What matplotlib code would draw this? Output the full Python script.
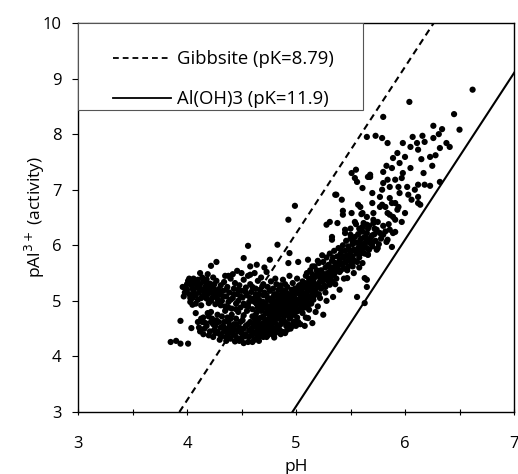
import matplotlib
matplotlib.use("Agg")
import matplotlib.pyplot as plt
from matplotlib.patches import Rectangle
from matplotlib.lines import Line2D

plt.rcParams['font.family'] = ['Open Sans', 'DejaVu Sans']

# ---------------- data ----------------
left_tail = [(3.85,4.26),(3.90,4.28),(3.94,4.23),(4.01,4.23),(3.94,4.64),(4.04,4.51),
             (4.05,4.93),(3.97,5.08),(3.99,5.22)]

left_upper = [(4.02,5.40),(4.12,5.50),(4.19,5.48),(4.22,5.63),(4.27,5.70),(4.38,5.45),
              (4.46,5.54),(4.52,5.77),(4.56,5.99),(4.73,5.52),
              (4.00,5.20),(4.02,5.12),(4.04,5.28),(4.05,5.05),(4.06,5.18),(4.07,5.32),(4.08,5.10),
              (4.09,5.24),(4.10,5.02),(4.11,5.15),(4.12,5.30),(4.13,5.21),(4.14,5.08),(4.15,5.35),
              (4.16,5.16),(4.17,5.26),(4.18,5.04),(4.19,5.12),(4.20,5.22),(4.21,5.31),(4.22,5.00),
              (4.23,5.14),(4.24,5.25),(4.25,5.08),(4.26,5.18),(4.27,5.36),(4.28,5.03),(4.29,5.21),
              (4.30,5.12),(4.31,5.28),(4.03,4.98),(4.08,4.95),(4.13,4.92),(4.01,5.36),(4.06,5.40),
              (4.10,5.38),(4.18,5.39),(4.24,5.42),(4.20,4.96),(4.26,4.94),
              (3.98,5.15),(4.00,5.30),(4.03,5.05),(4.05,5.22),(4.07,5.12),(4.09,5.35),(4.11,5.25),
              (4.13,5.05),(4.15,5.20),(4.17,5.10),(4.19,5.30),(4.21,5.18),(4.23,5.05),(4.25,5.30),
              (4.27,5.12),(4.29,4.98),(4.04,5.35),(4.14,5.42),(3.96,5.25)]

middle = [(4.32,5.00),(4.33,5.18),(4.34,5.34),(4.35,4.90),(4.36,5.08),(4.37,5.25),(4.38,4.98),
          (4.39,5.15),(4.40,5.40),(4.41,4.86),(4.42,5.05),(4.43,5.22),(4.44,5.32),(4.45,4.95),
          (4.46,5.12),(4.47,5.00),(4.48,5.28),(4.49,4.88),(4.50,5.18),(4.51,5.06),(4.52,5.38),
          (4.53,4.92),(4.54,5.24),(4.55,5.10),(4.56,5.45),(4.57,4.98),(4.58,5.30),(4.59,5.16),
          (4.60,4.85),(4.61,5.04),(4.62,5.50),(4.63,5.22),(4.64,4.94),(4.65,5.36),(4.66,5.12),
          (4.67,5.00),(4.68,5.42),(4.69,5.26),(4.70,4.90),(4.71,5.60),(4.35,5.45),(4.42,5.48),
          (4.50,5.50),(4.58,5.62),(4.64,5.65),(4.76,5.74),(4.83,6.01),(4.58,5.47),(4.93,5.68),
          (4.31,4.92),(4.33,5.08),(4.36,5.20),(4.38,4.88),(4.40,5.02),(4.43,5.12),(4.45,4.85),
          (4.47,5.20),(4.49,5.08),(4.52,4.95),(4.54,5.15),(4.56,4.90),(4.58,5.05),(4.60,5.25),
          (4.62,4.98),(4.63,5.12),(4.65,5.05),(4.67,5.20),(4.68,4.92),(4.70,5.10)]

left_lower = [(4.56,4.26),(4.73,4.35),(4.88,4.44),(4.62,4.30),(4.48,4.28),(4.40,4.32),(4.30,4.30),
              (4.20,4.38),(4.12,4.45),(4.10,4.62),(4.15,4.70),(4.08,4.78),(4.18,4.55),(4.22,4.80),
              (4.25,4.48),(4.27,4.65),(4.30,4.40),(4.32,4.72),(4.33,4.55),(4.35,4.82),(4.36,4.35),
              (4.38,4.62),(4.40,4.48),(4.41,4.75),(4.42,4.40),(4.43,4.58),(4.45,4.68),(4.46,4.33),
              (4.47,4.80),(4.48,4.52),(4.50,4.42),(4.51,4.65),(4.52,4.74),(4.53,4.36),(4.54,4.55),
              (4.55,4.82),(4.57,4.47),(4.58,4.62),(4.59,4.38),(4.60,4.72),(4.61,4.55),(4.63,4.44),
              (4.64,4.80),(4.65,4.62),(4.66,4.35),(4.67,4.52),(4.68,4.70),(4.69,4.42),(4.70,4.60),
              (4.72,4.78),(4.22,4.62),(4.16,4.50),(4.26,4.42),(4.34,4.45),(4.28,4.75),(4.20,4.72),
              (4.37,4.70),(4.44,4.48),(4.24,4.58),(4.14,4.62),
              (4.11,4.52),(4.13,4.68),(4.15,4.40),(4.17,4.60),(4.19,4.78),(4.21,4.45),(4.23,4.68),
              (4.24,4.35),(4.26,4.55),(4.28,4.45),(4.29,4.62),(4.31,4.52),(4.32,4.36),(4.34,4.62),
              (4.35,4.50),(4.37,4.42),(4.39,4.55),(4.40,4.68),(4.42,4.50),(4.44,4.38),(4.45,4.58),
              (4.47,4.45),(4.49,4.62),(4.50,4.33),(4.52,4.50),(4.54,4.40),(4.56,4.58),(4.57,4.35),
              (4.59,4.50),(4.61,4.42),(4.62,4.68),(4.64,4.38),(4.66,4.55),(4.68,4.42),(4.70,4.35),
              (4.72,4.45),(4.74,4.38),(4.77,4.48),(4.81,4.42),(4.86,4.40),(4.92,4.48),(4.97,4.55),
              (5.02,4.62),(4.66,4.28),(4.60,4.26),(4.52,4.24),(4.44,4.27),(4.36,4.28),(4.80,4.34)]

core = [(4.72,4.95),(4.73,5.10),(4.74,4.82),(4.74,5.25),(4.75,4.68),(4.75,5.02),(4.76,4.90),
        (4.76,5.18),(4.77,4.58),(4.77,5.35),(4.78,4.78),(4.78,5.05),(4.79,4.95),(4.79,5.22),
        (4.80,4.65),(4.80,5.12),(4.81,4.85),(4.81,5.40),(4.82,4.99),(4.82,5.30),(4.83,4.72),
        (4.83,5.08),(4.84,4.55),(4.84,5.20),(4.85,4.90),(4.85,5.02),(4.86,4.80),(4.86,5.28),
        (4.87,4.62),(4.87,5.12),(4.88,4.95),(4.88,5.38),(4.89,4.72),(4.89,5.05),(4.90,4.88),
        (4.90,5.18),(4.91,4.55),(4.91,5.00),(4.92,4.80),(4.92,5.25),(4.93,4.95),(4.93,5.12),
        (4.94,4.68),(4.94,5.45),(4.95,4.88),(4.95,5.06),(4.96,5.20),(4.96,4.76),(4.97,4.98),
        (4.97,5.32),(4.98,4.62),(4.98,5.10),(4.99,4.90),(4.99,5.22),(5.00,4.80),(5.00,5.02),
        (5.01,5.40),(5.01,4.70),(5.02,5.14),(5.02,4.95),(5.03,5.28),(5.03,4.85),(5.04,5.05),
        (5.04,4.58),(5.05,5.20),(5.05,4.92),(5.06,5.35),(5.06,4.78),(5.07,5.10),(5.07,5.00),
        (5.08,5.25),(5.08,4.88),(5.09,5.45),(5.09,4.70),(5.10,5.15),(5.10,4.98),(5.11,5.30),
        (5.12,4.84),(5.12,5.08),(5.13,5.22),(5.14,4.95),(5.14,5.38),(5.15,5.12),(4.75,4.45),
        (4.80,4.50),(4.85,4.48),(4.72,4.52),(4.90,4.42),(4.95,4.50),(5.00,4.55),(4.78,4.40),
        (4.70,4.98),(4.71,5.15),(4.70,5.30),(4.73,4.62),(4.76,4.75),(4.84,4.88),(4.88,4.82),
        (4.92,5.08),(4.96,4.90),(5.02,5.25),(4.82,5.12),(4.86,4.98),(4.90,5.30),(4.98,5.00),
        (5.04,5.12),(4.80,5.00),(4.94,5.00),(4.87,5.20),(4.99,5.15),(5.06,5.05),(4.93,4.85),
        (4.83,4.95),(4.77,5.00),(4.85,5.10),(4.91,5.15),(4.97,5.08),(5.03,5.18),(4.89,4.92),
        (4.79,4.85),(4.74,5.05),(5.00,4.98),
        (5.11,4.69),(5.25,4.75),(5.34,5.07),(5.31,5.29),(5.20,4.90),(5.18,4.80),(5.15,4.60),
        (5.08,4.55),(5.22,5.05),(5.28,5.00),(5.40,5.20),
        (4.62,4.60),(4.63,4.75),(4.64,4.52),(4.65,4.88),(4.66,4.68),(4.67,4.45),(4.68,4.82),
        (4.69,4.58),(4.70,4.72),(4.71,4.48),(4.71,4.88),(4.72,4.65),(4.73,4.78),(4.74,4.55),
        (4.75,4.90),(4.76,4.62),(4.77,4.82),(4.78,4.52),(4.79,4.70),(4.80,4.92),(4.81,4.60),
        (4.82,4.78),(4.83,4.48),(4.84,4.68),(4.85,4.82),(4.86,4.58),(4.87,4.75),(4.88,4.65),
        (4.89,4.85),(4.90,4.62),(4.91,4.75),(4.92,4.95),(4.93,4.58),(4.94,4.82),(4.95,4.70),
        (4.96,5.12),(4.97,4.85),(4.98,4.75),(4.99,5.05),(5.00,4.92),(5.01,5.18),(5.02,4.82),
        (5.03,5.00),(5.04,5.28),(5.05,4.85),(5.06,5.15),(5.07,4.92),(5.08,5.32),(5.09,5.05),
        (5.10,5.22),(5.11,4.92),(5.12,5.35),(5.13,5.05),(5.14,5.18),(5.15,5.30),(5.16,5.02),
        (5.17,5.42),(5.18,5.15),(5.19,5.28),(5.20,5.48),(5.21,5.12),(5.22,5.35),(5.23,5.22),
        (5.24,5.50),(5.26,5.38),(5.27,5.25)]

band = [(5.12,5.40),(5.13,5.55),(5.14,5.25),(5.15,5.48),(5.16,5.35),(5.17,5.62),(5.18,5.20),
        (5.18,5.45),(5.19,5.55),(5.20,5.30),(5.21,5.68),(5.22,5.42),(5.22,5.25),(5.23,5.55),
        (5.24,5.35),(5.25,5.70),(5.25,5.48),(5.26,5.28),(5.27,5.60),(5.28,5.42),(5.28,5.78),
        (5.29,5.50),(5.30,5.35),(5.30,5.65),(5.31,5.85),(5.32,5.55),(5.32,5.42),(5.33,5.72),
        (5.34,5.60),(5.35,5.48),(5.35,5.90),(5.36,5.68),(5.37,5.55),(5.38,5.80),(5.38,5.62),
        (5.39,5.95),(5.40,5.72),(5.40,5.52),(5.41,5.85),(5.42,5.65),(5.43,6.00),(5.43,5.78),
        (5.44,5.58),(5.45,5.90),(5.46,5.70),(5.46,6.08),(5.47,5.82),(5.48,5.62),(5.48,5.98),
        (5.49,5.75),(5.50,6.12),(5.50,5.88),(5.51,5.68),(5.52,6.02),(5.52,5.80),(5.53,5.92),
        (5.54,6.15),(5.54,5.72),(5.55,6.05),(5.56,5.85),(5.57,6.20),(5.57,5.95),(5.58,5.78),
        (5.59,6.10),(5.60,5.90),(5.61,6.25),(5.62,6.02),(5.63,5.85),(5.64,6.15),(5.65,5.95),
        (5.66,6.30),(5.68,6.08),(5.70,5.98),(5.72,6.20),(5.15,5.62),(5.20,5.72),(5.24,5.82),
        (5.10,5.50),(5.17,5.10),(5.27,5.15),(5.36,5.30),(5.44,5.40),(5.53,5.50),(5.58,5.60),
        (5.29,5.62),(5.31,5.48),(5.33,5.35),(5.34,5.78),(5.36,5.52),(5.37,5.40),(5.39,5.68),
        (5.41,5.55),(5.42,5.90),(5.44,5.68),(5.45,5.80),(5.47,5.55),(5.49,5.92),(5.50,5.78),
        (5.52,5.62),(5.53,6.05),(5.55,5.88),(5.56,5.70),(5.58,6.02),(5.59,5.85),(5.60,6.12),
        (5.62,5.95),(5.64,6.05),(5.65,6.22),(5.67,5.92),(5.69,6.15),(5.73,6.08),(5.74,6.28),
        (5.76,6.02),(5.50,6.30),(5.55,6.38),(5.60,6.25),(5.62,6.40),(5.67,6.35),(5.72,6.30),
        (5.75,6.42),(5.78,6.12),(5.80,6.35),(5.82,6.25),(5.85,6.38),(5.70,6.18),(5.65,6.10),
        (5.58,6.30)]

above_band = [(4.99,6.71),(5.42,6.82),(4.93,6.46),(4.94,5.86),(5.02,5.70),(5.11,5.74),
              (5.28,6.37),(5.38,6.40),(5.43,6.55),(5.57,6.73),(5.61,6.58),(5.54,6.42),
              (5.33,6.15),(5.45,6.22),(5.63,6.15)]

below_band = [(5.61,5.68),(5.47,5.41),(5.63,5.41),(5.65,5.25),(5.56,5.07),(5.63,4.96),
              (5.66,5.83),(5.75,5.95),(5.51,5.74)]

upper = [(6.62,8.80),(6.04,8.58),(6.45,8.36),(5.80,8.31),(6.26,8.15),(6.50,8.08),(6.34,8.09),
         (6.31,8.00),(5.65,7.95),(5.73,7.97),(5.79,7.93),(5.84,7.84),(5.98,7.84),(6.07,7.95),
         (6.16,7.97),(6.11,7.84),(6.05,7.77),(6.12,7.72),(6.18,7.86),(6.26,7.93),(6.38,7.84),
         (6.32,7.75),(6.41,7.77),(5.93,7.66),(5.89,7.57),(6.00,7.59),(6.15,7.55),(6.23,7.59),
         (6.28,7.62),(6.25,7.43),(6.17,7.30),(5.83,7.43),(5.88,7.39),(5.95,7.48),(6.05,7.39),
         (5.98,7.30),(5.80,7.32),(5.68,7.27),(5.55,7.36),(5.51,7.30),(5.56,7.14),(5.61,7.03),
         (5.68,7.23),(5.37,6.91),(5.31,6.42),(5.43,6.62),(5.51,6.58),(5.60,6.56),
         (5.59,6.69),(5.70,6.94),(5.77,6.87),(5.79,7.00),(5.86,7.05),(5.80,7.12),(5.84,7.18),
         (5.91,7.18),(5.97,7.21),(5.94,7.05),(6.02,7.05),(5.95,6.94),(5.86,6.85),(6.03,6.91),
         (6.06,6.82),(6.12,6.87),(6.14,6.73),(6.09,7.00),(6.18,7.09),(6.23,7.07),(6.12,7.09),
         (6.32,7.14),(5.91,6.76),(5.93,6.64),(5.89,6.51),(5.82,6.69),(5.84,6.58),(5.77,6.69),
         (5.71,6.58),(5.71,6.40),(5.65,6.51),(5.61,6.33),(5.77,6.22),(5.80,6.19),(5.86,6.28),
         (5.89,6.22),(5.84,6.10),(5.88,5.97),(5.68,6.04),(5.50,6.19),(5.45,6.28),(5.52,6.06),
         (5.61,6.01),(5.74,5.92),(5.33,6.10),(5.70,6.76),(5.79,6.73),(5.88,6.76),(5.94,6.69),
         (6.12,6.76),(5.86,6.55),(6.00,6.58),(5.71,6.46),(5.91,6.46),(5.97,6.42),(5.65,6.37),
         (5.91,6.24),(5.83,6.06),(5.70,6.04),(5.66,5.83),(5.65,5.38),(5.54,7.21),(5.66,7.23),
         (5.36,6.91)]

groups = [left_tail, left_upper, middle, left_lower, core, band, above_band, below_band, upper]

# equilibrium lines: pAl = 3 pH - pK
line_labels = ['Gibbsite (pK=8.79)', 'Al(OH)3 (pK=11.9)']
line_pk = [8.79, 11.9]
line_styles = [(0, (3.2, 2.2)), '-']

# ---------------- figure ----------------
fig = plt.figure(figsize=(5.18, 4.74), dpi=100)
ax = fig.add_axes([0.1506, 0.1308, 0.8417, 0.8207])

for g in groups:
    xs = [p[0] for p in g]
    ys = [p[1] for p in g]
    ax.scatter(xs, ys, s=20, color='black', edgecolors='none', zorder=3)

for pk, ls in zip(line_pk, line_styles):
    y0, y1 = 3.0, 10.0
    ax.plot([(y0 + pk) / 3, (y1 + pk) / 3], [y0, y1], color='black',
            linestyle=ls, linewidth=1.5, zorder=4)

ax.set_xlim(3, 7)
ax.set_ylim(3, 10)
ax.set_xticks([3, 4, 5, 6, 7])
ax.set_xticks([3.5, 4.5, 5.5, 6.5], minor=True)
ax.set_yticks(range(3, 11))
ax.tick_params(axis='x', which='both', direction='inout', length=4, width=0.8,
               labelsize=12, pad=15)
ax.tick_params(axis='y', which='both', direction='out', length=4, width=0.8,
               labelsize=12, pad=8)
for sp in ax.spines.values():
    sp.set_linewidth(1.0)

ax.set_xlabel('pH', fontsize=12.5, labelpad=5)
ax.set_ylabel('pAl$^{3+}$ (activity)', fontsize=12.5, labelpad=-3)

# legend box
ax.add_patch(Rectangle((0, 0.776), 0.653, 0.224, transform=ax.transAxes,
                       facecolor='white', edgecolor='#555555', linewidth=0.8, zorder=5))
handles = [Line2D([], [], color='black', linestyle=ls, linewidth=1.3) for ls in line_styles]
leg = ax.legend(handles, line_labels, loc='upper left', bbox_to_anchor=(0.08, 0.93),
                frameon=False, fontsize=13.3, handlelength=3.15, handletextpad=0.3,
                labelspacing=1.19, borderaxespad=0, borderpad=0)
leg.set_zorder(6)

fig.savefig('out.png', dpi=100)
